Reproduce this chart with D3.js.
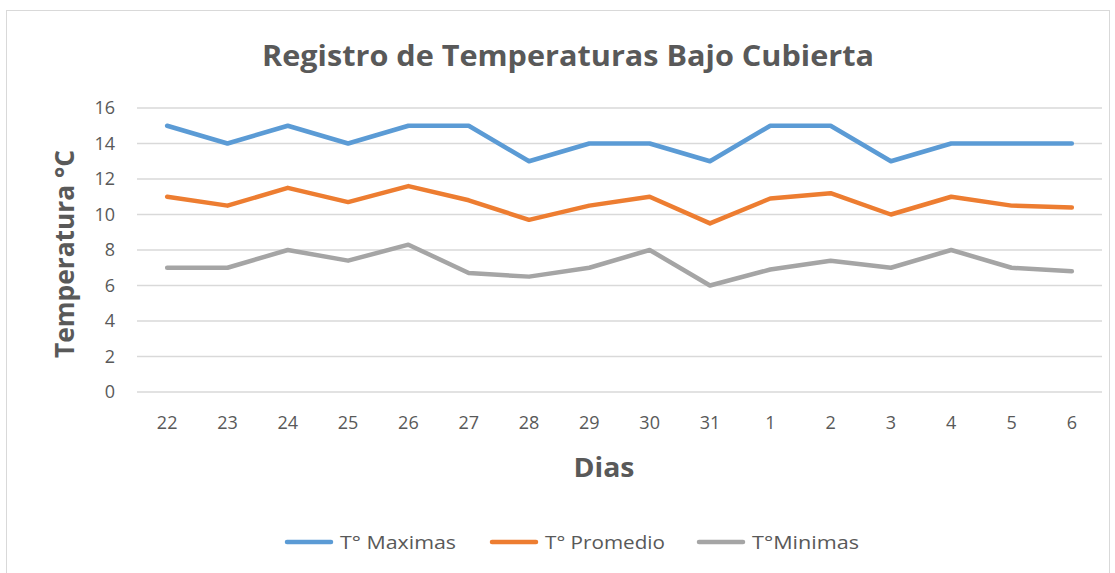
<!DOCTYPE html>
<html>
<head>
<meta charset="utf-8">
<script src="https://cdnjs.cloudflare.com/ajax/libs/d3/7.8.5/d3.min.js"></script>
<style>
  body { margin: 0; background: #fff; }
  text { font-family: "Open Sans", "Liberation Sans", sans-serif; }
</style>
</head>
<body>
<script>
// data
var dias = ["22","23","24","25","26","27","28","29","30","31","1","2","3","4","5","6"];
var maximas  = [15,14,15,14,15,15,13,14,14,13,15,15,13,14,14,14];
var promedio = [11,10.5,11.5,10.7,11.6,10.8,9.7,10.5,11,9.5,10.9,11.2,10,11,10.5,10.4];
var minimas  = [7,7,8,7.4,8.3,6.7,6.5,7,8,6,6.9,7.4,7,8,7,6.8];
var yTicks = [0,2,4,6,8,10,12,14,16];

var seriesNames = ["T° Maximas", "T° Promedio", "T°Minimas"];
var colors = ["#5B9BD5", "#ED7D31", "#A5A5A5"];
var series = [maximas, promedio, minimas];

var w = 1115, h = 573;
var plotLeft = 137, plotRight = 1102, plotTop = 108, plotBottom = 392;

var svg = d3.select("body").append("svg")
            .attr("width", w)
            .attr("height", h);

// outer chart border
svg.append("rect")
   .attr("x", 6.5).attr("y", 10.5)
   .attr("width", 1103).attr("height", 570)
   .attr("fill", "none")
   .attr("stroke", "#D9D9D9");

var x = d3.scaleBand().domain(dias).range([plotLeft, plotRight]);
var y = d3.scaleLinear().domain([0, 16]).range([plotBottom, plotTop]);

// gridlines
svg.append("g").selectAll("line")
   .data(yTicks)
   .join("line")
   .attr("x1", plotLeft).attr("x2", plotRight)
   .attr("y1", d => y(d)).attr("y2", d => y(d))
   .attr("stroke", "#D9D9D9")
   .attr("stroke-width", 1.3);

// y axis labels
var yAxis = svg.append("g")
   .attr("transform", "translate(" + (plotLeft - 22) + ",0)")
   .call(d3.axisLeft(y).tickValues(yTicks).tickSize(0).tickPadding(0));
yAxis.select(".domain").remove();
yAxis.selectAll("text")
   .attr("fill", "#595959")
   .style("font-size", "18px")
   .style("font-family", "'Open Sans', sans-serif");

// x axis labels
var xAxis = svg.append("g")
   .attr("transform", "translate(0," + (plotBottom + 24) + ")")
   .call(d3.axisBottom(x).tickSize(0).tickPadding(0));
xAxis.select(".domain").remove();
xAxis.selectAll("text")
   .attr("fill", "#595959")
   .attr("dy", "0.71em")
   .style("font-size", "18px")
   .style("font-family", "'Open Sans', sans-serif");

// lines
var line = d3.line()
   .x((d, i) => x(dias[i]) + x.bandwidth() / 2)
   .y(d => y(d));

svg.append("g").selectAll("path")
   .data(series)
   .join("path")
   .attr("d", d => line(d))
   .attr("fill", "none")
   .attr("stroke", (d, i) => colors[i])
   .attr("stroke-width", 4.5)
   .attr("stroke-linejoin", "round")
   .attr("stroke-linecap", "round");

// title
svg.append("text")
   .attr("x", 568).attr("y", 66)
   .attr("text-anchor", "middle")
   .attr("fill", "#595959")
   .attr("font-weight", "bold")
   .style("font-size", "29px")
   .attr("textLength", 612)
   .attr("lengthAdjust", "spacingAndGlyphs")
   .text("Registro de Temperaturas Bajo Cubierta");

// axis titles
svg.append("text")
   .attr("transform", "translate(74,254) rotate(-90)")
   .attr("text-anchor", "middle")
   .attr("fill", "#595959")
   .attr("font-weight", "bold")
   .style("font-size", "26px")
   .attr("textLength", 208)
   .attr("lengthAdjust", "spacingAndGlyphs")
   .text("Temperatura °C");

svg.append("text")
   .attr("x", 604).attr("y", 477)
   .attr("text-anchor", "middle")
   .attr("fill", "#595959")
   .attr("font-weight", "bold")
   .style("font-size", "26px")
   .attr("textLength", 61)
   .attr("lengthAdjust", "spacingAndGlyphs")
   .text("Dias");

// legend
var legendX = [285, 490, 697];
var legendTextW = [116, 120, 107];
var legend = svg.append("g").selectAll("g")
   .data(seriesNames)
   .join("g")
   .attr("transform", (d, i) => "translate(" + legendX[i] + ",542)");

legend.append("line")
   .attr("x1", 2).attr("x2", 46)
   .attr("y1", 0).attr("y2", 0)
   .attr("stroke", (d, i) => colors[i])
   .attr("stroke-width", 4.5)
   .attr("stroke-linecap", "round");

legend.append("text")
   .attr("x", 55).attr("y", 7)
   .attr("fill", "#595959")
   .style("font-size", "19px")
   .attr("textLength", (d, i) => legendTextW[i])
   .attr("lengthAdjust", "spacingAndGlyphs")
   .text(d => d);
</script>
</body>
</html>
